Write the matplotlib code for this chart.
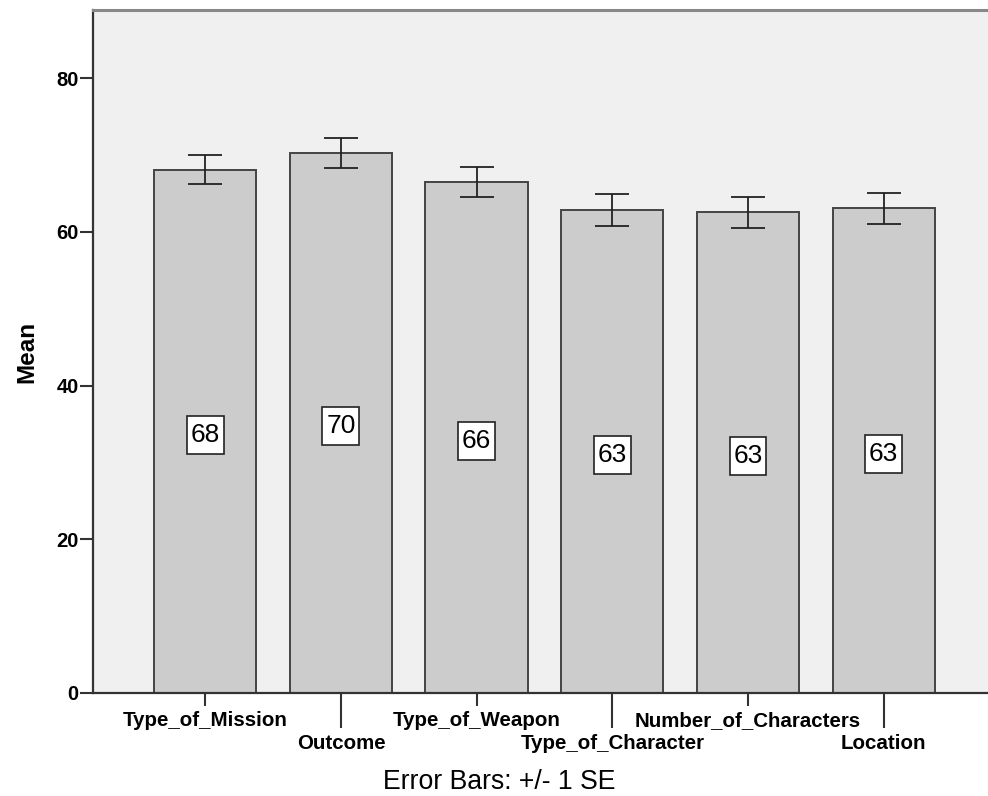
import matplotlib
matplotlib.use("Agg")
import matplotlib.pyplot as plt
from matplotlib.path import Path
import numpy as np

plt.rcParams['font.family'] = ['Liberation Sans', 'DejaVu Sans']

categories = ["Type_of_Mission", "Outcome", "Type_of_Weapon",
              "Type_of_Character", "Number_of_Characters", "Location"]
means = [68.1, 70.27, 66.46, 62.85, 62.59, 63.11]
se = [1.89, 1.95, 1.95, 2.12, 2.02, 2.02]
yticks = [0, 20, 40, 60, 80]

W, H = 988, 796
fig = plt.figure(figsize=(W / 100, H / 100), dpi=100)
fig.patch.set_facecolor('white')
ax = fig.add_axes([93 / W, (H - 692.7) / H, 1 - 93 / W, (692.7 - 10) / H])
ax.set_facecolor('#F0F0F0')

x = np.arange(len(categories))
ax.bar(x, means, width=0.754, color='#CCCCCC', edgecolor='#444444',
       linewidth=1.4, zorder=2)
ax.errorbar(x, means, yerr=se, fmt='none', ecolor='#222222',
            elinewidth=1.3, capsize=12.5, capthick=1.3, zorder=3)


def label_box(x0, y0, width, height, mutation_size):
    px = 0.145 * mutation_size
    py = 0.27 * mutation_size
    xa, ya = x0 - px, y0 - py
    xb, yb = x0 + width + px, y0 + height + py
    return Path([(xa, ya), (xb, ya), (xb, yb), (xa, yb), (xa, ya)],
                closed=True)


for xi, m in zip(x, means):
    ax.text(xi, m / 2 - 0.45, f"{m:.0f}", ha='center', va='center',
            fontsize=19, color='black', zorder=4,
            bbox=dict(boxstyle=label_box, facecolor='white',
                      edgecolor='#222222', linewidth=1.2))

ax.set_xlim(-0.8276, 5.769)
ax.set_ylim(0, 88.9)

ax.set_yticks(yticks)
ax.set_yticklabels([str(v) for v in yticks], fontsize=14.5, fontweight='bold')
ax.tick_params(axis='y', length=9.5, width=1.5, color='#333333', pad=0.8)

ax.set_xticks(x[0::2])
ax.set_xticklabels(categories[0::2], fontsize=14.8, fontweight='bold')
ax.set_xticks(x[1::2], minor=True)
ax.set_xticklabels(categories[1::2], minor=True, fontsize=14.8, fontweight='bold')
ax.tick_params(axis='x', which='major', length=9, width=1.5, color='#333333', pad=4.5)
ax.tick_params(axis='x', which='minor', length=25.5, width=1.5, color='#333333', pad=4)

for s in ['left', 'bottom']:
    ax.spines[s].set_color('#333333')
    ax.spines[s].set_linewidth(1.6)
ax.spines['top'].set_color('#888888')
ax.spines['top'].set_linewidth(2.2)
ax.spines['right'].set_visible(False)

fig.text(27 / W, 1 - 351.5 / H, "Mean", rotation=90, ha='center', va='center',
         fontsize=17.5, fontweight='bold')
fig.text(499 / W, 7 / H, "Error Bars: +/- 1 SE", ha='center', va='baseline',
         fontsize=19.2)

fig.savefig("out.png", dpi=100, facecolor='white')
